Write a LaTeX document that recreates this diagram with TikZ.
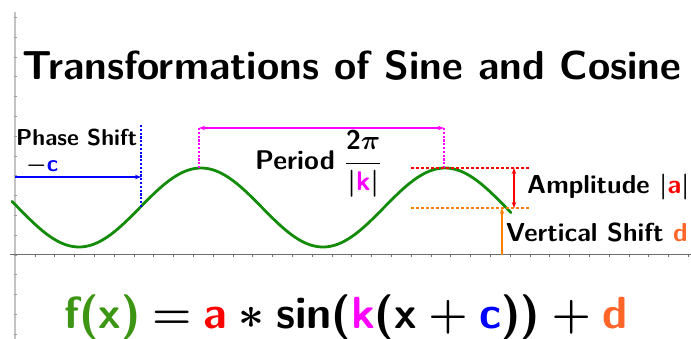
\RequirePackage{fix-cm}
\documentclass[tikz,border=0pt]{standalone}
\usetikzlibrary{arrows.meta}
\definecolor{curvegreen}{RGB}{20,140,10}
\definecolor{fgreen}{RGB}{60,150,20}
\definecolor{myred}{RGB}{255,0,0}
\definecolor{mymag}{RGB}{255,0,255}
\definecolor{myblue}{RGB}{0,0,255}
\definecolor{myorange}{RGB}{255,128,0}
\definecolor{dorange}{RGB}{255,100,40}
\definecolor{axisgray}{RGB}{110,110,110}
\definecolor{yaxisgray}{RGB}{195,195,195}
\tikzset{
  lbl/.style={anchor=base west, inner sep=0pt, font=\sffamily\bfseries\boldmath},
  tip/.style={-{Stealth[length=6pt,width=4.5pt]}},
  dtip/.style={{Stealth[length=6pt,width=4.5pt]}-{Stealth[length=6pt,width=4.5pt]}},
  guide/.style={dash pattern=on 2.2pt off 1.6pt, line width=1.6pt},
  levelline/.style={dash pattern=on 3pt off 2pt, line width=2pt},
}
\newcommand{\gap}{\hspace{0.26em}}
\begin{document}
\begin{tikzpicture}[x=1pt,y=-1pt]
\useasboundingbox (0,0) rectangle (691,339);
\fill[white] (0,0) rectangle (691,339);
% axes
\draw[yaxisgray, line width=1.5pt] (15,12) coordinate (ytop) -- (15,339) coordinate (ybot);
\foreach \k in {-12,...,4} \draw[yaxisgray!80!black, line width=0.6pt] (13.5,255+19.8*\k) -- (16.5,255+19.8*\k);
\draw[axisgray, line width=1pt] (10,255) coordinate (xl) -- (691,255) coordinate (xr);
\foreach \k in {1,...,34} \draw[axisgray, line width=0.6pt] (15+19.8*\k,255) -- (15+19.8*\k,257.5);
% curve
\draw[curvegreen, line width=2.8pt, line cap=round, domain=12:511, samples=200, variable=\t]
  plot ({\t},{207.5-39.5*cos(1.47541*(\t-201))});
% reference coordinates
\coordinate (bl) at (15,177);
\coordinate (br) at (141,177);
\coordinate (btop) at (141,125);
\coordinate (bbot) at (141,207.5);
\coordinate (ml) at (199,128);
\coordinate (mr) at (444,128);
\coordinate (mlb) at (199,168);
\coordinate (mrb) at (444,168);
\coordinate (ampl) at (411,168);
\coordinate (ampr) at (529,168);
\coordinate (vsl) at (411,208);
\coordinate (vsr) at (529,208);
\coordinate (rt) at (514,168);
\coordinate (rb) at (514,208);
\coordinate (ob) at (502,255);
\coordinate (ot) at (502,208);
% phase shift
\draw[myblue, guide] (btop) -- (bbot);
\draw[myblue, line width=1.3pt, tip] (bl) -- (br);
% period
\draw[mymag, guide] (ml) -- (mlb);
\draw[mymag, guide] (mr) -- (mrb);
\draw[mymag, line width=1.3pt, dtip] (ml) -- (mr);
% amplitude and shift
\draw[myred, levelline] (ampl) -- (ampr);
\draw[myorange, levelline] (vsl) -- (vsr);
\draw[myred, line width=1.1pt, dtip] (rb) -- (rt);
\draw[myorange, line width=1.6pt, tip] (ob) -- (ot);
% texts
\node[lbl, font=\sffamily\bfseries\fontsize{40.5}{46}\selectfont] (title) at (22,80) {Transformations of Sine and Cosine};
\node[lbl, font=\sffamily\bfseries\fontsize{23}{27}\selectfont] (phase) at (16,146) {Phase Shift};
\node[lbl, font=\sffamily\bfseries\boldmath\fontsize{23}{27}\selectfont] (minc) at (26,172) {$-$\textcolor{myblue}{c}};
\node[lbl, font=\sffamily\bfseries\boldmath\fontsize{27}{31}\selectfont] (period) at (255,170) {Period $\displaystyle\frac{\mbox{\sffamily\bfseries 2}\pi}{|\textcolor{mymag}{\mbox{\sffamily\bfseries k}}|}$};
\node[lbl, font=\sffamily\bfseries\boldmath\fontsize{26}{30}\selectfont] (amp) at (527,194) {Amplitude $|$\textcolor{myred}{a}$|$};
\node[lbl, font=\sffamily\bfseries\boldmath\fontsize{26}{30}\selectfont] (vshift) at (506,242) {Vertical Shift \textcolor{dorange}{d}};
\node[lbl, font=\sffamily\bfseries\boldmath\fontsize{45}{52}\selectfont] (formula) at (64,328)
  {\textcolor{fgreen}{f(x)}\gap$=$\gap\textcolor{myred}{a}\gap$\ast$\gap sin(\textcolor{mymag}{k}(x\gap$+$\gap\textcolor{myblue}{c}))\gap$+$\gap\textcolor{dorange}{d}};
\end{tikzpicture}
\end{document}
